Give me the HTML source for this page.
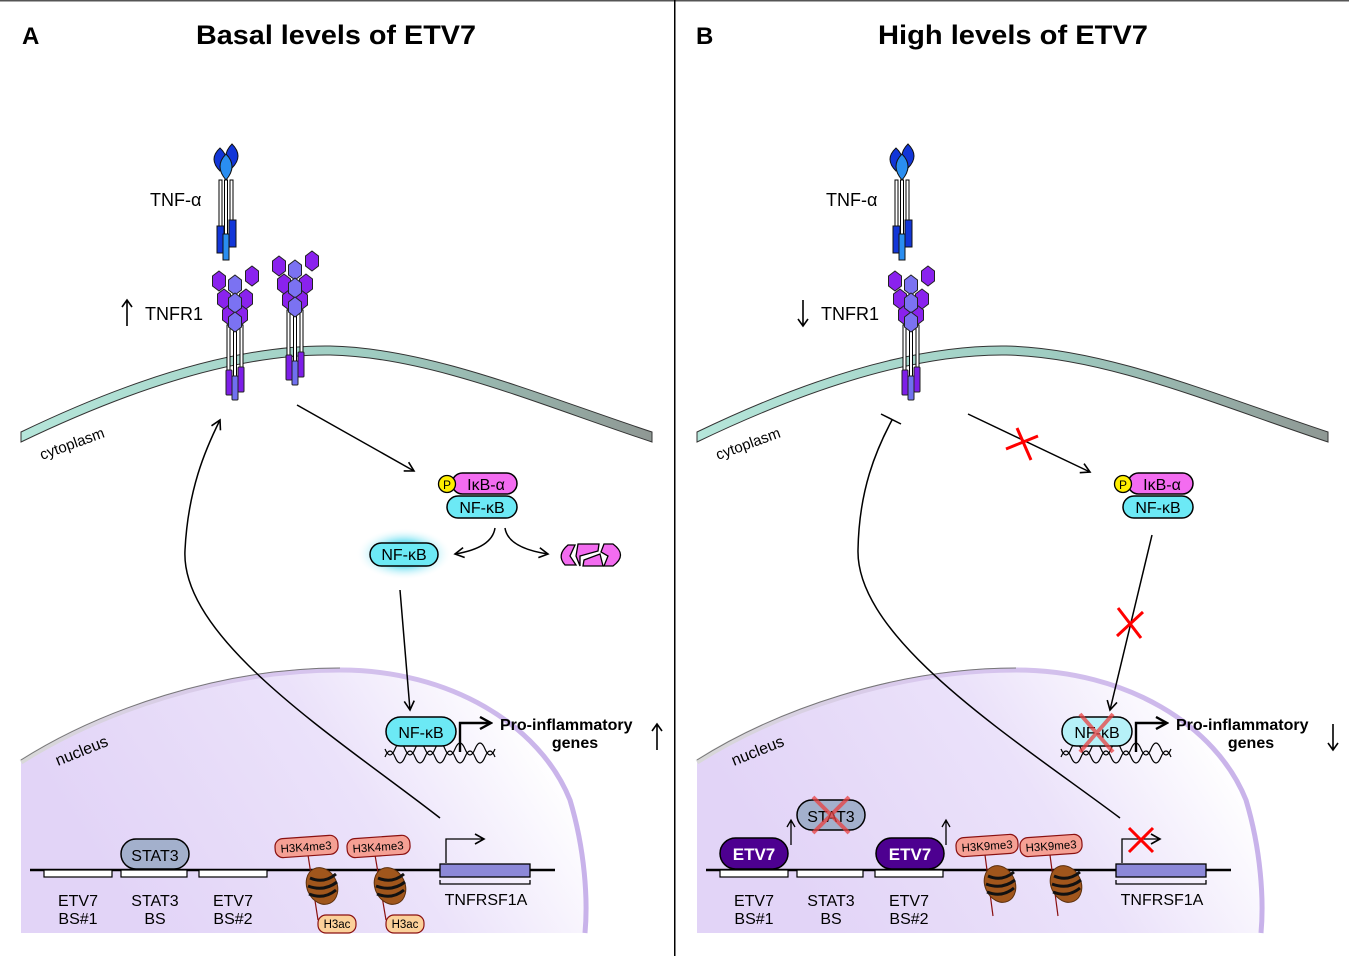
<!DOCTYPE html>
<html><head><meta charset="utf-8"><style>
html,body{margin:0;padding:0;background:#fff}
svg{display:block}
text{font-family:"Liberation Sans",Arial,sans-serif}
</style></head><body>
<svg width="1349" height="956" viewBox="0 0 1349 956" xmlns="http://www.w3.org/2000/svg">
<defs>
<linearGradient id="mem" x1="0" x2="1" y1="0" y2="0">
<stop offset="0" stop-color="#b5e6da"/><stop offset="0.55" stop-color="#9fcdc2"/><stop offset="1" stop-color="#8f9894"/></linearGradient>
<linearGradient id="nuc" x1="0" x2="1" y1="0.3" y2="0">
<stop offset="0" stop-color="#e2d4f7"/><stop offset="0.5" stop-color="#ebe2fa"/><stop offset="0.85" stop-color="#ffffff"/></linearGradient>
<linearGradient id="env" x1="0" x2="1" y1="0" y2="0">
<stop offset="0" stop-color="#d8d8d8"/><stop offset="0.4" stop-color="#d9c8ee"/><stop offset="1" stop-color="#c8b2ea"/></linearGradient>
<radialGradient id="glow"><stop offset="0.5" stop-color="#7fe3f3"/><stop offset="1" stop-color="#ffffff" stop-opacity="0"/></radialGradient>
<marker id="ar" markerWidth="12" markerHeight="12" refX="10" refY="6" orient="auto" markerUnits="userSpaceOnUse">
<path d="M1,1 L10,6 L1,11" fill="none" stroke="#000" stroke-width="1.6"/></marker>
<marker id="arb" markerWidth="14" markerHeight="14" refX="11" refY="7" orient="auto" markerUnits="userSpaceOnUse">
<path d="M1,1 L12,7 L1,13" fill="none" stroke="#000" stroke-width="2.4"/></marker>
<path id="hex" d="M0,-10 L6.5,-5 L6.5,5 L0,10 L-6.5,5 L-6.5,-5 Z" stroke="#222" stroke-width="1"/>
<g id="rec">
 <rect x="-8" y="55" width="3" height="55" fill="#fff" stroke="#000" stroke-width="1"/>
 <rect x="-1.5" y="55" width="3" height="60" fill="#fff" stroke="#000" stroke-width="1"/>
 <rect x="5" y="55" width="3" height="55" fill="#fff" stroke="#000" stroke-width="1"/>
 <use href="#hex" x="-16" y="11" fill="#8a22ee"/>
 <use href="#hex" x="17" y="6" fill="#8a22ee"/>
 <use href="#hex" x="0" y="15" fill="#7b72f2"/>
 <use href="#hex" x="-11" y="29" fill="#8a22ee"/>
 <use href="#hex" x="11" y="29" fill="#8a22ee"/>
 <use href="#hex" x="-6" y="45" fill="#8a22ee"/>
 <use href="#hex" x="6" y="45" fill="#8a22ee"/>
 <use href="#hex" x="0" y="33" fill="#7b72f2"/>
 <use href="#hex" x="0" y="52" fill="#7b72f2"/>
 <rect x="-9" y="100" width="6" height="25" rx="1" fill="#7d1ee8" stroke="#222" stroke-width="1"/>
 <rect x="3" y="97" width="6" height="25" rx="1" fill="#7d1ee8" stroke="#222" stroke-width="1"/>
 <rect x="-3" y="106" width="6" height="24" rx="1" fill="#7070f0" stroke="#222" stroke-width="1"/>
</g>
<g id="tnf">
 <rect x="-7" y="22" width="3" height="52" fill="#fff" stroke="#000" stroke-width="1"/>
 <rect x="-1.5" y="22" width="3" height="60" fill="#fff" stroke="#000" stroke-width="1"/>
 <rect x="4" y="22" width="3" height="52" fill="#fff" stroke="#000" stroke-width="1"/>
 <path d="M-6,-10 Q-18,1 -6,13 Q6,1 -6,-10Z" fill="#1236d8" stroke="#111" stroke-width="1"/>
 <path d="M6,-14 Q-6,-2 6,10 Q18,-2 6,-14Z" fill="#1236d8" stroke="#111" stroke-width="1"/>
 <path d="M0,-4 Q-12,8 0,22 Q12,8 0,-4Z" fill="#2a8ef0" stroke="#111" stroke-width="1"/>
 <rect x="-9" y="68" width="7" height="27" fill="#1236d8" stroke="#111" stroke-width="1"/>
 <rect x="3" y="62" width="7" height="27" fill="#1236d8" stroke="#111" stroke-width="1"/>
 <rect x="-3" y="76" width="6" height="26" fill="#2a8ef0" stroke="#111" stroke-width="1"/>
</g>
<g id="nucleo">
 <ellipse cx="0" cy="0" rx="15" ry="19" fill="#a0561c" stroke="#5a2e0c" stroke-width="1" transform="rotate(-25)"/>
 <path d="M-12,-8 Q2,-2 14,-12 M-14,0 Q2,6 15,-4 M-13,8 Q2,14 14,4" stroke="#111" stroke-width="3" fill="none"/>
</g>
<g id="helix">
 <path d="M0,8 q5,-12 10,0 t10,0 t10,0 t10,0 t10,0 t10,0 t10,0 t10,0 t10,0 t10,0 t10,0" fill="none" stroke="#000" stroke-width="1.2"/>
 <path d="M0,0 q5,12 10,0 t10,0 t10,0 t10,0 t10,0 t10,0 t10,0 t10,0 t10,0 t10,0 t10,0" fill="none" stroke="#000" stroke-width="1.2"/>
</g>
<g id="up"><path d="M0,13 L0,-13 M-5,-6 L0,-13 L5,-6" fill="none" stroke="#000" stroke-width="1.6"/></g>
<g id="down"><path d="M0,-13 L0,13 M-5,6 L0,13 L5,6" fill="none" stroke="#000" stroke-width="1.6"/></g>
</defs>

<rect x="0" y="0" width="1349" height="1.5" fill="#555"/>
<rect x="674" y="0" width="1.5" height="956" fill="#000"/>

<!-- ================= PANEL A ================= -->
<text x="22" y="44" font-size="24" font-weight="bold">A</text>
<text x="196" y="44" font-size="27" font-weight="bold" textLength="280" lengthAdjust="spacingAndGlyphs">Basal levels of ETV7</text>

<path d="M21,432 C150,370 250,345 330,346 C430,348 540,395 652,432 L652,442 C540,405 430,357 330,355 C250,354 150,380 21,442 Z" fill="url(#mem)" stroke="#333" stroke-width="1"/>
<text x="42" y="460" font-size="15" transform="rotate(-20 42 460)">cytoplasm</text>

<path d="M21,762 C100,712 220,670 340,670 C450,670 540,725 570,800 C585,850 588,900 585,933 L21,933 Z" fill="url(#nuc)"/>
<path d="M21,762 C100,712 220,670 340,670 C450,670 540,725 570,800 C585,850 588,900 585,933" fill="none" stroke="url(#env)" stroke-width="5"/>
<path d="M21,760 C100,710 220,668 340,668" fill="none" stroke="#777" stroke-width="1"/>
<text x="58" y="766" font-size="16" transform="rotate(-22 58 766)">nucleus</text>

<use href="#tnf" x="226" y="158"/>
<text x="150" y="206" font-size="18">TNF-α</text>
<use href="#rec" x="235" y="270"/>
<use href="#rec" x="295" y="255"/>
<use href="#up" x="127" y="313"/>
<text x="145" y="320" font-size="18">TNFR1</text>

<line x1="297" y1="405" x2="414" y2="471" stroke="#000" stroke-width="1.5" marker-end="url(#ar)"/>

<rect x="452" y="473" width="65" height="21" rx="10.5" fill="#f36cf0" stroke="#000" stroke-width="1.5"/>
<circle cx="447" cy="484" r="8.5" fill="#ffee00" stroke="#000" stroke-width="1.3"/>
<text x="447" y="489" font-size="12" text-anchor="middle">P</text>
<text x="486" y="490" font-size="16" text-anchor="middle">IκB-α</text>
<rect x="447" y="496" width="70" height="22" rx="11" fill="#6ce9f5" stroke="#000" stroke-width="1.5"/>
<text x="482" y="513" font-size="16" text-anchor="middle">NF-κB</text>

<path d="M495,528 Q492,548 455,554" fill="none" stroke="#000" stroke-width="1.5" marker-end="url(#ar)"/>
<path d="M505,528 Q508,548 548,554" fill="none" stroke="#000" stroke-width="1.5" marker-end="url(#ar)"/>

<ellipse cx="404" cy="554" rx="48" ry="26" fill="url(#glow)"/>
<rect x="370" y="543" width="68" height="23" rx="11.5" fill="#6ce9f5" stroke="#000" stroke-width="1.5"/>
<text x="404" y="560" font-size="16" text-anchor="middle">NF-κB</text>

<path d="M568,545 L575,545 L570,556 L576,565 L565,565 Q556,555 568,545 Z" fill="#f36cf0" stroke="#000" stroke-width="1.3"/>
<path d="M578,544 L599,544 L598,551 L580,556 L580,566 L576,556 Z" fill="#f36cf0" stroke="#000" stroke-width="1.3"/>
<path d="M584,560 L600,554 L603,566 L583,566 Z" fill="#f36cf0" stroke="#000" stroke-width="1.3"/>
<path d="M604,544 L613,544 Q628,555 613,566 L604,566 L608,556 L601,552 Z" fill="#f36cf0" stroke="#000" stroke-width="1.3"/>

<line x1="400" y1="590" x2="410" y2="710" stroke="#000" stroke-width="1.5" marker-end="url(#ar)"/>

<use href="#helix" x="385" y="749"/>
<rect x="386" y="717" width="70" height="29" rx="14.5" fill="#6ce9f5" stroke="#000" stroke-width="1.5"/>
<text x="421" y="738" font-size="16" text-anchor="middle">NF-κB</text>
<path d="M460,752 L460,723 L490,723" fill="none" stroke="#000" stroke-width="2.4" marker-end="url(#arb)"/>
<text x="500" y="730" font-size="16" font-weight="bold">Pro-inflammatory</text>
<text x="575" y="748" font-size="16" font-weight="bold" text-anchor="middle">genes</text>
<use href="#up" x="657" y="737"/>

<path d="M440,818 C340,740 180,640 185,550 C188,490 205,450 220,420" fill="none" stroke="#000" stroke-width="1.5" marker-end="url(#ar)"/>

<!-- DNA A -->
<line x1="30" y1="870" x2="555" y2="870" stroke="#000" stroke-width="2.5"/>
<rect x="44" y="870" width="68" height="7" fill="#fff" stroke="#000" stroke-width="1.2"/>
<rect x="121" y="870" width="66" height="7" fill="#fff" stroke="#000" stroke-width="1.2"/>
<rect x="199" y="870" width="68" height="7" fill="#fff" stroke="#000" stroke-width="1.2"/>
<rect x="121" y="839" width="68" height="30" rx="15" fill="#a3b0cc" stroke="#000" stroke-width="1.5"/>
<text x="155" y="861" font-size="16" text-anchor="middle">STAT3</text>
<g font-size="16" text-anchor="middle">
<text x="78" y="906">ETV7</text><text x="78" y="924">BS#1</text>
<text x="155" y="906">STAT3</text><text x="155" y="924">BS</text>
<text x="233" y="906">ETV7</text><text x="233" y="924">BS#2</text>
<text x="486" y="905">TNFRSF1A</text>
</g>
<line x1="308" y1="855" x2="318" y2="920" stroke="#8a1010" stroke-width="1.2"/>
<line x1="375" y1="855" x2="386" y2="920" stroke="#8a1010" stroke-width="1.2"/>
<use href="#nucleo" x="322" y="886"/>
<use href="#nucleo" x="390" y="886"/>
<g font-size="11.5" text-anchor="middle">
<rect x="275" y="837" width="63" height="19" rx="8" fill="#f5a094" stroke="#8a1010" stroke-width="1.2" transform="rotate(-4 306 846)"/>
<text x="306" y="851" transform="rotate(-4 306 846)">H3K4me3</text>
<rect x="347" y="837" width="63" height="19" rx="8" fill="#f5a094" stroke="#8a1010" stroke-width="1.2" transform="rotate(-4 378 846)"/>
<text x="378" y="851" transform="rotate(-4 378 846)">H3K4me3</text>
<rect x="318" y="915" width="38" height="18" rx="8" fill="#fbd19a" stroke="#8a1010" stroke-width="1.2"/>
<text x="337" y="928">H3ac</text>
<rect x="386" y="915" width="38" height="18" rx="8" fill="#fbd19a" stroke="#8a1010" stroke-width="1.2"/>
<text x="405" y="928">H3ac</text>
</g>
<rect x="440" y="864" width="90" height="13" fill="#8c88d8" stroke="#000" stroke-width="1.3"/>
<path d="M440,880 L440,884 L530,884 L530,880" fill="none" stroke="#000" stroke-width="1.3"/>
<path d="M446,863 L446,839 L484,839" fill="none" stroke="#000" stroke-width="1.3" marker-end="url(#ar)"/>

<!-- ================= PANEL B ================= -->
<text x="696" y="44" font-size="24" font-weight="bold">B</text>
<text x="878" y="44" font-size="27" font-weight="bold" textLength="270" lengthAdjust="spacingAndGlyphs">High levels of ETV7</text>

<g transform="translate(676,0)">
<path d="M21,432 C150,370 250,345 330,346 C430,348 540,395 652,432 L652,442 C540,405 430,357 330,355 C250,354 150,380 21,442 Z" fill="url(#mem)" stroke="#333" stroke-width="1"/>
<text x="42" y="460" font-size="15" transform="rotate(-20 42 460)">cytoplasm</text>

<path d="M21,762 C100,712 220,670 340,670 C450,670 540,725 570,800 C585,850 588,900 585,933 L21,933 Z" fill="url(#nuc)"/>
<path d="M21,762 C100,712 220,670 340,670 C450,670 540,725 570,800 C585,850 588,900 585,933" fill="none" stroke="url(#env)" stroke-width="5"/>
<path d="M21,760 C100,710 220,668 340,668" fill="none" stroke="#777" stroke-width="1"/>
<text x="58" y="766" font-size="16" transform="rotate(-22 58 766)">nucleus</text>

<use href="#tnf" x="226" y="158"/>
<text x="150" y="206" font-size="18">TNF-α</text>
<use href="#rec" x="235" y="270"/>
<use href="#down" x="127" y="313"/>
<text x="145" y="320" font-size="18">TNFR1</text>

<line x1="292" y1="414" x2="414" y2="472" stroke="#000" stroke-width="1.5" marker-end="url(#ar)"/>
<path d="M341,428 L355,460 M330,449 L362,436" stroke="#f00" stroke-width="3"/>

<rect x="452" y="473" width="65" height="21" rx="10.5" fill="#f36cf0" stroke="#000" stroke-width="1.5"/>
<circle cx="447" cy="484" r="8.5" fill="#ffee00" stroke="#000" stroke-width="1.3"/>
<text x="447" y="489" font-size="12" text-anchor="middle">P</text>
<text x="486" y="490" font-size="16" text-anchor="middle">IκB-α</text>
<rect x="447" y="496" width="70" height="22" rx="11" fill="#6ce9f5" stroke="#000" stroke-width="1.5"/>
<text x="482" y="513" font-size="16" text-anchor="middle">NF-κB</text>

<line x1="476" y1="535" x2="434" y2="710" stroke="#000" stroke-width="1.5" marker-end="url(#ar)"/>
<path d="M442,608 L465,638 M441,636 L467,612" stroke="#f00" stroke-width="3"/>

<use href="#helix" x="385" y="749"/>
<rect x="386" y="717" width="70" height="29" rx="14.5" fill="#b6f1f8" stroke="#000" stroke-width="1.5"/>
<text x="421" y="738" font-size="16" text-anchor="middle">NF-κB</text>
<path d="M404,714 L437,752 M404,752 L437,714" stroke="#e84040" stroke-opacity="0.75" stroke-width="4"/>
<path d="M460,752 L460,723 L490,723" fill="none" stroke="#000" stroke-width="2.4" marker-end="url(#arb)"/>
<text x="500" y="730" font-size="16" font-weight="bold">Pro-inflammatory</text>
<text x="575" y="748" font-size="16" font-weight="bold" text-anchor="middle">genes</text>
<use href="#down" x="657" y="737"/>

<path d="M444,818 C340,740 180,640 182,550 C183,490 200,450 216,420" fill="none" stroke="#000" stroke-width="1.5"/>
<line x1="205" y1="414" x2="225" y2="424" stroke="#000" stroke-width="1.5"/>

<!-- DNA B -->
<line x1="30" y1="870" x2="555" y2="870" stroke="#000" stroke-width="2.5"/>
<rect x="44" y="870" width="68" height="7" fill="#fff" stroke="#000" stroke-width="1.2"/>
<rect x="121" y="870" width="66" height="7" fill="#fff" stroke="#000" stroke-width="1.2"/>
<rect x="199" y="870" width="68" height="7" fill="#fff" stroke="#000" stroke-width="1.2"/>
<rect x="44" y="838" width="68" height="31" rx="15.5" fill="#4d0090" stroke="#000" stroke-width="1.5"/>
<text x="78" y="860" font-size="17" font-weight="bold" fill="#fff" text-anchor="middle">ETV7</text>
<rect x="200" y="838" width="68" height="31" rx="15.5" fill="#4d0090" stroke="#000" stroke-width="1.5"/>
<text x="234" y="860" font-size="17" font-weight="bold" fill="#fff" text-anchor="middle">ETV7</text>
<path d="M115,845 L115,821 M111,827 L115,820 L119,827" fill="none" stroke="#000" stroke-width="1.3"/>
<path d="M270,845 L270,821 M266,827 L270,820 L274,827" fill="none" stroke="#000" stroke-width="1.3"/>
<rect x="121" y="800" width="68" height="30" rx="15" fill="#a3b0cc" stroke="#000" stroke-width="1.5"/>
<text x="155" y="822" font-size="16" text-anchor="middle">STAT3</text>
<path d="M137,797 L173,833 M137,833 L173,797" stroke="#e84040" stroke-opacity="0.75" stroke-width="4"/>
<g font-size="16" text-anchor="middle">
<text x="78" y="906">ETV7</text><text x="78" y="924">BS#1</text>
<text x="155" y="906">STAT3</text><text x="155" y="924">BS</text>
<text x="233" y="906">ETV7</text><text x="233" y="924">BS#2</text>
<text x="486" y="905">TNFRSF1A</text>
</g>
<line x1="309" y1="855" x2="317" y2="916" stroke="#8a1010" stroke-width="1.2"/>
<line x1="374" y1="855" x2="382" y2="916" stroke="#8a1010" stroke-width="1.2"/>
<use href="#nucleo" x="324" y="884"/>
<use href="#nucleo" x="390" y="884"/>
<g font-size="11.5" text-anchor="middle">
<rect x="280" y="836" width="62" height="19" rx="8" fill="#f5a094" stroke="#8a1010" stroke-width="1.2" transform="rotate(-4 311 845)"/>
<text x="311" y="850" transform="rotate(-4 311 845)">H3K9me3</text>
<rect x="344" y="836" width="62" height="19" rx="8" fill="#f5a094" stroke="#8a1010" stroke-width="1.2" transform="rotate(-4 375 845)"/>
<text x="375" y="850" transform="rotate(-4 375 845)">H3K9me3</text>
</g>
<rect x="440" y="864" width="90" height="13" fill="#8c88d8" stroke="#000" stroke-width="1.3"/>
<path d="M440,880 L440,884 L530,884 L530,880" fill="none" stroke="#000" stroke-width="1.3"/>
<path d="M446,863 L446,839 L484,839" fill="none" stroke="#000" stroke-width="1.3" marker-end="url(#ar)"/>
<path d="M453,828 L477,852 M453,852 L477,828" stroke="#f00" stroke-width="3"/>
</g>
</svg>
</body></html>
